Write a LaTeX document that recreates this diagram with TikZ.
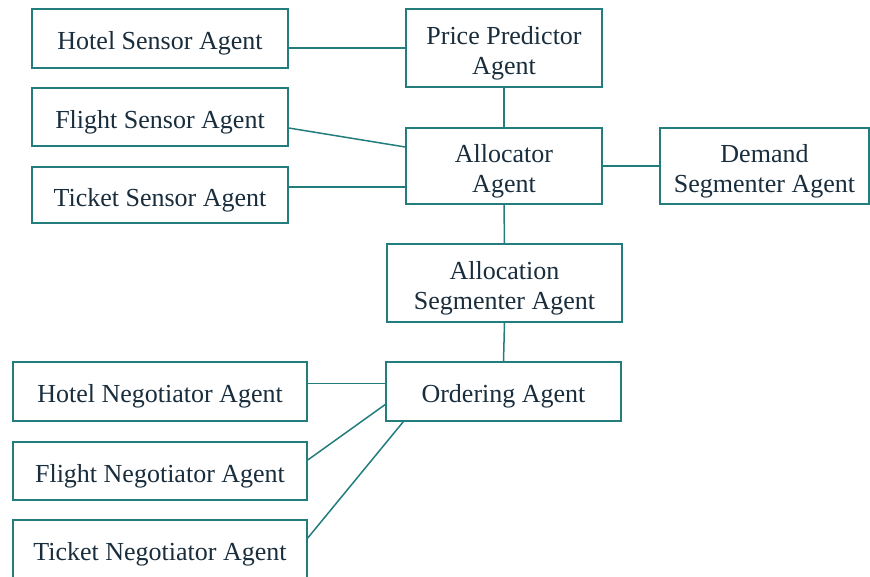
\documentclass[tikz,border=0pt]{standalone}
\usepackage{fontspec}
\setmainfont{Liberation Serif}
\usetikzlibrary{calc}
\definecolor{edgeteal}{RGB}{35,125,125}
\definecolor{inkdark}{RGB}{25,45,60}
\begin{document}
\begin{tikzpicture}[x=1pt,y=-1pt,
  agenttext/.style={inner sep=0pt, align=center, text=inkdark,
    font=\fontsize{26}{30}\selectfont, yshift=-5pt},
  agent/.style={draw=edgeteal, line width=1.5pt, fill=white, inner sep=0pt,
    label={[agenttext]center:#1}},
  link/.style={draw=edgeteal, line width=1.5pt}]
\useasboundingbox (0,0) rectangle (870,576);
% sensor agents
\node[agent={Hotel Sensor Agent}, minimum width=256pt, minimum height=59pt] (hs) at (160,38.5) {};
\node[agent={Flight Sensor Agent}, minimum width=256pt, minimum height=58pt] (fs) at (160,117) {};
\node[agent={Ticket Sensor Agent}, minimum width=256pt, minimum height=56pt] (ts) at (160,195) {};
% central column
\node[agent={Price Predictor\\Agent}, minimum width=196pt, minimum height=78pt] (pp) at (504,48) {};
\node[agent={Allocator\\Agent}, minimum width=196pt, minimum height=76pt] (al) at (504,166) {};
\node[agent={Demand\\Segmenter Agent}, minimum width=209pt, minimum height=76pt] (ds) at (764.5,166) {};
\node[agent={Allocation\\Segmenter Agent}, minimum width=235pt, minimum height=78pt] (as) at (504.5,283) {};
\node[agent={Ordering Agent}, minimum width=235pt, minimum height=59pt] (or) at (503.5,391.5) {};
% negotiator agents
\node[agent={Hotel Negotiator Agent}, minimum width=294pt, minimum height=59pt] (hn) at (160,391.5) {};
\node[agent={Flight Negotiator Agent}, minimum width=294pt, minimum height=58pt] (fn) at (160,471) {};
\node[agent={Ticket Negotiator Agent}, minimum width=294pt, minimum height=58pt] (tn) at (160,549) {};
% connectors
\draw[link] (hs.east |- pp.west) -- (pp.west);
\draw[link] (pp.south) -- (al.north);
\draw[link] ($(fs.east)+(0,11)$) -- ($(al.west)+(0,-19)$);
\coordinate (tsl) at ($(ts.east)+(0,-8)$);
\draw[link] (tsl) -- (al.west |- tsl);
\draw[link] (al.east) -- (ds.west);
\draw[link] (al.south) -- (as.north);
\draw[link] (as.south) -- (or.north);
\coordinate (hnl) at ($(hn.east)+(0,-8)$);
\draw[link] (hnl) -- (or.west |- hnl);
\draw[link] ($(fn.east)+(0,-11)$) -- ($(or.west)+(0,13)$);
\draw[link] ($(tn.east)+(0,-11)$) -- ($(or.south west)+(18,0)$);
\end{tikzpicture}
\end{document}
